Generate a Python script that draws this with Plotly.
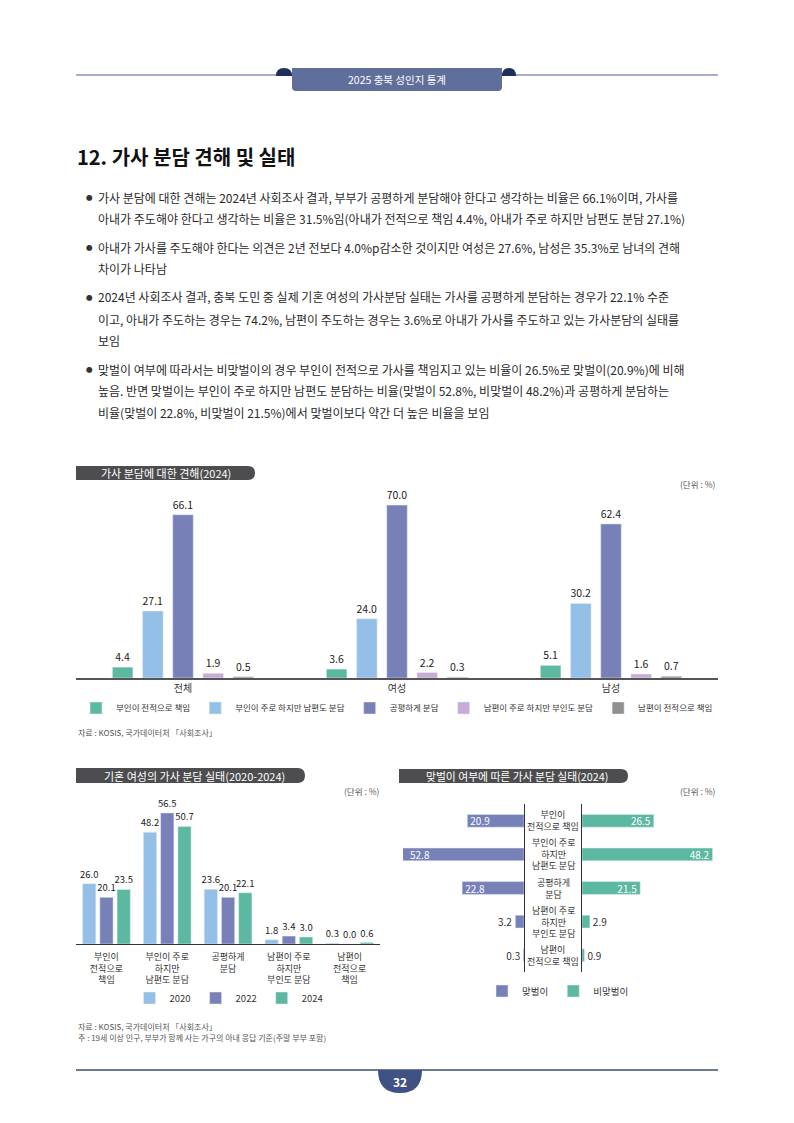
import plotly.graph_objects as go

W, H = 794, 1123
FONT = "Noto Sans CJK KR"


def px(x):
    return x / W


def py(y):
    return 1 - y / H


def pt(x, y):
    return f"{px(x):.5f},{py(y):.5f}"


# ---- data -----------------------------------------------------------------
share_types = ["부인이 전적으로 책임", "부인이 주로 하지만 남편도 분담", "공평하게 분담",
               "남편이 주로 하지만 부인도 분담", "남편이 전적으로 책임"]

# 가사 분담에 대한 견해(2024)
view_groups = ["전체", "여성", "남성"]
view_wife_only = [4.4, 3.6, 5.1]
view_wife_mostly = [27.1, 24.0, 30.2]
view_equal = [66.1, 70.0, 62.4]
view_husband_mostly = [1.9, 2.2, 1.6]
view_husband_only = [0.5, 0.3, 0.7]

# 기혼 여성의 가사 분담 실태(2020-2024)
practice_years = ["2020", "2022", "2024"]
practice_2020 = [26.0, 48.2, 23.6, 1.8, 0.3]
practice_2022 = [20.1, 56.5, 20.1, 3.4, 0.0]
practice_2024 = [23.5, 50.7, 22.1, 3.0, 0.6]
practice_ticks = ["부인이<br>전적으로<br>책임", "부인이 주로<br>하지만<br>남편도 분담", "공평하게<br>분담",
                  "남편이 주로<br>하지만<br>부인도 분담", "남편이<br>전적으로<br>책임"]

# 맞벌이 여부에 따른 가사 분담 실태(2024)
dual_income = [20.9, 52.8, 22.8, 3.2, 0.3]
single_income = [26.5, 48.2, 21.5, 2.9, 0.9]
band_labels = ["부인이<br>전적으로 책임", "부인이 주로<br>하지만<br>남편도 분담", "공평하게<br>분담",
               "남편이 주로<br>하지만<br>부인도 분담", "남편이<br>전적으로 책임"]

bullets = [
    ["가사 분담에 대한 견해는 2024년 사회조사 결과, 부부가 공평하게 분담해야 한다고 생각하는 비율은 66.1%이며, 가사를",
     "아내가 주도해야 한다고 생각하는 비율은 31.5%임(아내가 전적으로 책임 4.4%, 아내가 주로 하지만 남편도 분담 27.1%)"],
    ["아내가 가사를 주도해야 한다는 의견은 2년 전보다 4.0%p감소한 것이지만 여성은 27.6%, 남성은 35.3%로 남녀의 견해",
     "차이가 나타남"],
    ["2024년 사회조사 결과, 충북 도민 중 실제 기혼 여성의 가사분담 실태는 가사를 공평하게 분담하는 경우가 22.1% 수준",
     "이고, 아내가 주도하는 경우는 74.2%, 남편이 주도하는 경우는 3.6%로 아내가 가사를 주도하고 있는 가사분담의 실태를",
     "보임"],
    ["맞벌이 여부에 따라서는 비맞벌이의 경우 부인이 전적으로 가사를 책임지고 있는 비율이 26.5%로 맞벌이(20.9%)에 비해",
     "높음. 반면 맞벌이는 부인이 주로 하지만 남편도 분담하는 비율(맞벌이 52.8%, 비맞벌이 48.2%)과 공평하게 분담하는",
     "비율(맞벌이 22.8%, 비맞벌이 21.5%)에서 맞벌이보다 약간 더 높은 비율을 보임"],
]

# ---- colours ----------------------------------------------------------------
TEAL = "#5cb8a1"
SKY = "#94bfe7"
PURPLE = "#7880b8"
PINK = "#c9abd6"
GREY = "#8f8f8f"
view_colors = [TEAL, SKY, PURPLE, PINK, GREY]
year_colors = [SKY, PURPLE, TEAL]

# left half of the butterfly is cut off at this value (long bar runs off the panel)
LEFT_MAX = 44.6
RIGHT_MAX = 50.2

fig = go.Figure()

# chart 1
view_series = [view_wife_only, view_wife_mostly, view_equal, view_husband_mostly, view_husband_only]
for name, vals, color in zip(share_types, view_series, view_colors):
    fig.add_trace(go.Bar(
        x=view_groups, y=vals, name=name, marker_color=color,
        text=vals, texttemplate="%{y:.1f}", textposition="outside",
        textfont=dict(size=10.5, color="#222"), constraintext="none", cliponaxis=False,
        xaxis="x", yaxis="y", legend="legend", hoverinfo="skip",
    ))

# chart 2
for i, (year, vals, color) in enumerate(zip(practice_years, [practice_2020, practice_2022, practice_2024], year_colors)):
    fig.add_trace(go.Bar(
        x=share_types, y=vals, name=year, marker_color=color,
        width=0.218, offset=-0.3915 + i * 0.2835,
        text=vals, texttemplate="%{y:.1f}", textposition="outside",
        textfont=dict(size=9.5, color="#222"), constraintext="none", cliponaxis=False,
        xaxis="x2", yaxis="y2", legend="legend2", hoverinfo="skip",
    ))

# chart 3 (butterfly)
left_text = [f"{v:.1f}" if v <= LEFT_MAX else "" for v in dual_income]
right_text = [f"{v:.1f}" for v in single_income]
for name, vals, labels, color, xa, ya in [("맞벌이", dual_income, left_text, PURPLE, "x3", "y3"),
                                          ("비맞벌이", single_income, right_text, TEAL, "x4", "y4")]:
    fig.add_trace(go.Bar(
        y=share_types, x=vals, orientation="h", name=name, marker_color=color,
        width=0.38, text=labels, texttemplate="%{text}", textposition="auto",
        insidetextanchor="end", insidetextfont=dict(size=10, color="white"),
        outsidetextfont=dict(size=10, color="#333"), constraintext="none",
        xaxis=xa, yaxis=ya, legend="legend3", hoverinfo="skip",
    ))

# ---- shapes -----------------------------------------------------------------
shapes = []


def line(x0, y0, x1, y1, color, width):
    shapes.append(dict(type="line", xref="paper", yref="paper", x0=px(x0), y0=py(y0),
                       x1=px(x1), y1=py(y1), line=dict(color=color, width=width)))


def path(d, color):
    shapes.append(dict(type="path", xref="paper", yref="paper", path=d,
                       fillcolor=color, line=dict(width=0)))


line(76, 75, 718, 75, "#a7aec6", 2)
path(f"M{pt(276, 76)} Q{pt(276, 68)} {pt(284, 68)} Q{pt(292, 68)} {pt(292, 76)} Z", "#1f2f5a")
path(f"M{pt(502, 76)} Q{pt(502, 68)} {pt(509, 68)} Q{pt(516, 68)} {pt(516, 76)} Z", "#1f2f5a")
path(f"M{pt(292, 68)} L{pt(502, 68)} L{pt(502, 87)} Q{pt(502, 91)} {pt(498, 91)} "
     f"L{pt(296, 91)} Q{pt(292, 91)} {pt(292, 87)} Z", "#5f6e9b")


def tab(x0, x1, y0, y1):
    r = (y1 - y0) / 2
    path(f"M{pt(x0, y0)} L{pt(x1 - r, y0)} Q{pt(x1, y0)} {pt(x1, y0 + r)} "
         f"Q{pt(x1, y1)} {pt(x1 - r, y1)} L{pt(x0, y1)} Z", "#4d4d4f")


tab(76, 255, 466, 480)
tab(76, 305, 768, 783)
tab(399, 628, 769, 783)

line(76, 1070, 718, 1070, "#3e4c70", 1.5)
path(f"M{pt(378, 1070)} Q{pt(378, 1093)} {pt(400, 1093)} Q{pt(422, 1093)} {pt(422, 1070)} Z", "#3f5283")

# ---- texts ------------------------------------------------------------------
ann = []


def text(x, y, s, size, color="#222", anchor="left", bold=False):
    ann.append(dict(xref="paper", yref="paper", x=px(x), y=py(y), text=f"<b>{s}</b>" if bold else s,
                    showarrow=False, xanchor=anchor, yanchor="middle",
                    font=dict(size=size, color=color, family=FONT)))


text(397, 80, "2025 충북 성인지 통계", 10.5, "white", "center")
text(75, 157, "12. 가사 분담 견해 및 실태", 20, "#111", bold=True)

line_y = [[197, 218], [247, 268], [297, 319, 340], [369, 390, 412]]
for para, ys in zip(bullets, line_y):
    text(89, ys[0], "●", 6.5, "#333", "center")
    for s, y in zip(para, ys):
        text(96, y, s, 12, "#2a2a2a")

text(166, 473, "가사 분담에 대한 견해(2024)", 11, "white", "center")
text(194, 775.5, "기혼 여성의 가사 분담 실태(2020-2024)", 11, "white", "center")
text(517, 776, "맞벌이 여부에 따른 가사 분담 실태(2024)", 10.8, "white", "center")

text(718, 484, "(단위 : %)", 8.5, "#555", "right")
text(382, 791, "(단위 : %)", 8.5, "#555", "right")
text(718, 791, "(단위 : %)", 8.5, "#555", "right")

text(76, 732, "자료 : KOSIS, 국가데이터처 「사회조사」", 8, "#555")
text(76, 1026, "자료 : KOSIS, 국가데이터처 「사회조사」", 8, "#555")
text(76, 1037, "주 : 19세 이상 인구, 부부가 함께 사는 가구의 아내 응답 기준(주말 부부 포함)", 8, "#555")

text(400, 1081, "32", 12, "white", "center", bold=True)

for i, lab in enumerate(band_labels):
    ann.append(dict(xref="paper", yref="y3", x=px(553), y=i, text=lab, showarrow=False,
                    xanchor="center", yanchor="middle", font=dict(size=9, color="#333", family=FONT)))

# value labels of bars that run past the left panel edge
for i, v in enumerate(dual_income):
    if v > LEFT_MAX:
        ann.append(dict(xref="x3", yref="y3", x=LEFT_MAX, y=i, text=f"{v:.1f}", showarrow=False,
                        xanchor="left", yanchor="middle", xshift=5,
                        font=dict(size=10, color="white", family=FONT)))

# ---- layout -----------------------------------------------------------------
hidden = dict(visible=False, showgrid=False, zeroline=False, fixedrange=True)

fig.update_layout(
    width=W, height=H, autosize=False,
    margin=dict(l=0, r=0, t=0, b=0),
    paper_bgcolor="white", plot_bgcolor="white",
    font=dict(family=FONT, color="#333"),
    barmode="group", bargap=0.295, bargroupgap=0.32,
    hovermode=False,
    shapes=shapes, annotations=ann,
    xaxis=dict(domain=[px(76), px(718)], anchor="y", showline=True, linecolor="#555", linewidth=1.5,
               ticks="", showgrid=False, tickfont=dict(size=10, color="#333"), fixedrange=True),
    yaxis=dict(domain=[py(678), py(490.3)], anchor="x", range=[0, 76], **hidden),
    xaxis2=dict(domain=[px(76), px(380)], anchor="y2", showline=True, linecolor="#333", linewidth=1.2,
                ticks="", showgrid=False, tickvals=share_types, ticktext=practice_ticks,
                ticklabelstandoff=4, tickfont=dict(size=9, color="#333"), fixedrange=True),
    yaxis2=dict(domain=[py(944), py(802.5)], anchor="x2", range=[0, 61], **hidden),
    xaxis3=dict(domain=[px(403), px(524)], anchor="y3", range=[LEFT_MAX, 0], **hidden),
    yaxis3=dict(domain=[py(972), py(804)], anchor="x3", side="right", showline=True, linecolor="#333",
                linewidth=1.2, ticks="", showticklabels=False, showgrid=False,
                categoryorder="array", categoryarray=share_types, autorange="reversed", fixedrange=True),
    xaxis4=dict(domain=[px(582), px(718)], anchor="y4", range=[0, RIGHT_MAX], **hidden),
    yaxis4=dict(domain=[py(972), py(804)], anchor="x4", side="left", showline=True, linecolor="#333",
                linewidth=1.2, ticks="", showticklabels=False, showgrid=False,
                categoryorder="array", categoryarray=share_types, autorange="reversed", fixedrange=True),
    legend=dict(orientation="h", x=0.5, xanchor="center", y=py(708), yanchor="middle",
                font=dict(size=8.5, color="#333"), bgcolor="rgba(0,0,0,0)", itemclick=False,
                itemdoubleclick=False),
    legend2=dict(orientation="h", x=px(229), xanchor="center", y=py(998), yanchor="middle",
                 font=dict(size=9.5, color="#333"), bgcolor="rgba(0,0,0,0)", itemclick=False,
                 itemdoubleclick=False),
    legend3=dict(orientation="h", x=px(558), xanchor="center", y=py(991), yanchor="middle",
                 font=dict(size=9.5, color="#333"), bgcolor="rgba(0,0,0,0)", itemclick=False,
                 itemdoubleclick=False),
)

fig.write_html("out.html", config={"displayModeBar": False, "staticPlot": True},
               post_script="document.body.style.margin='0';")
